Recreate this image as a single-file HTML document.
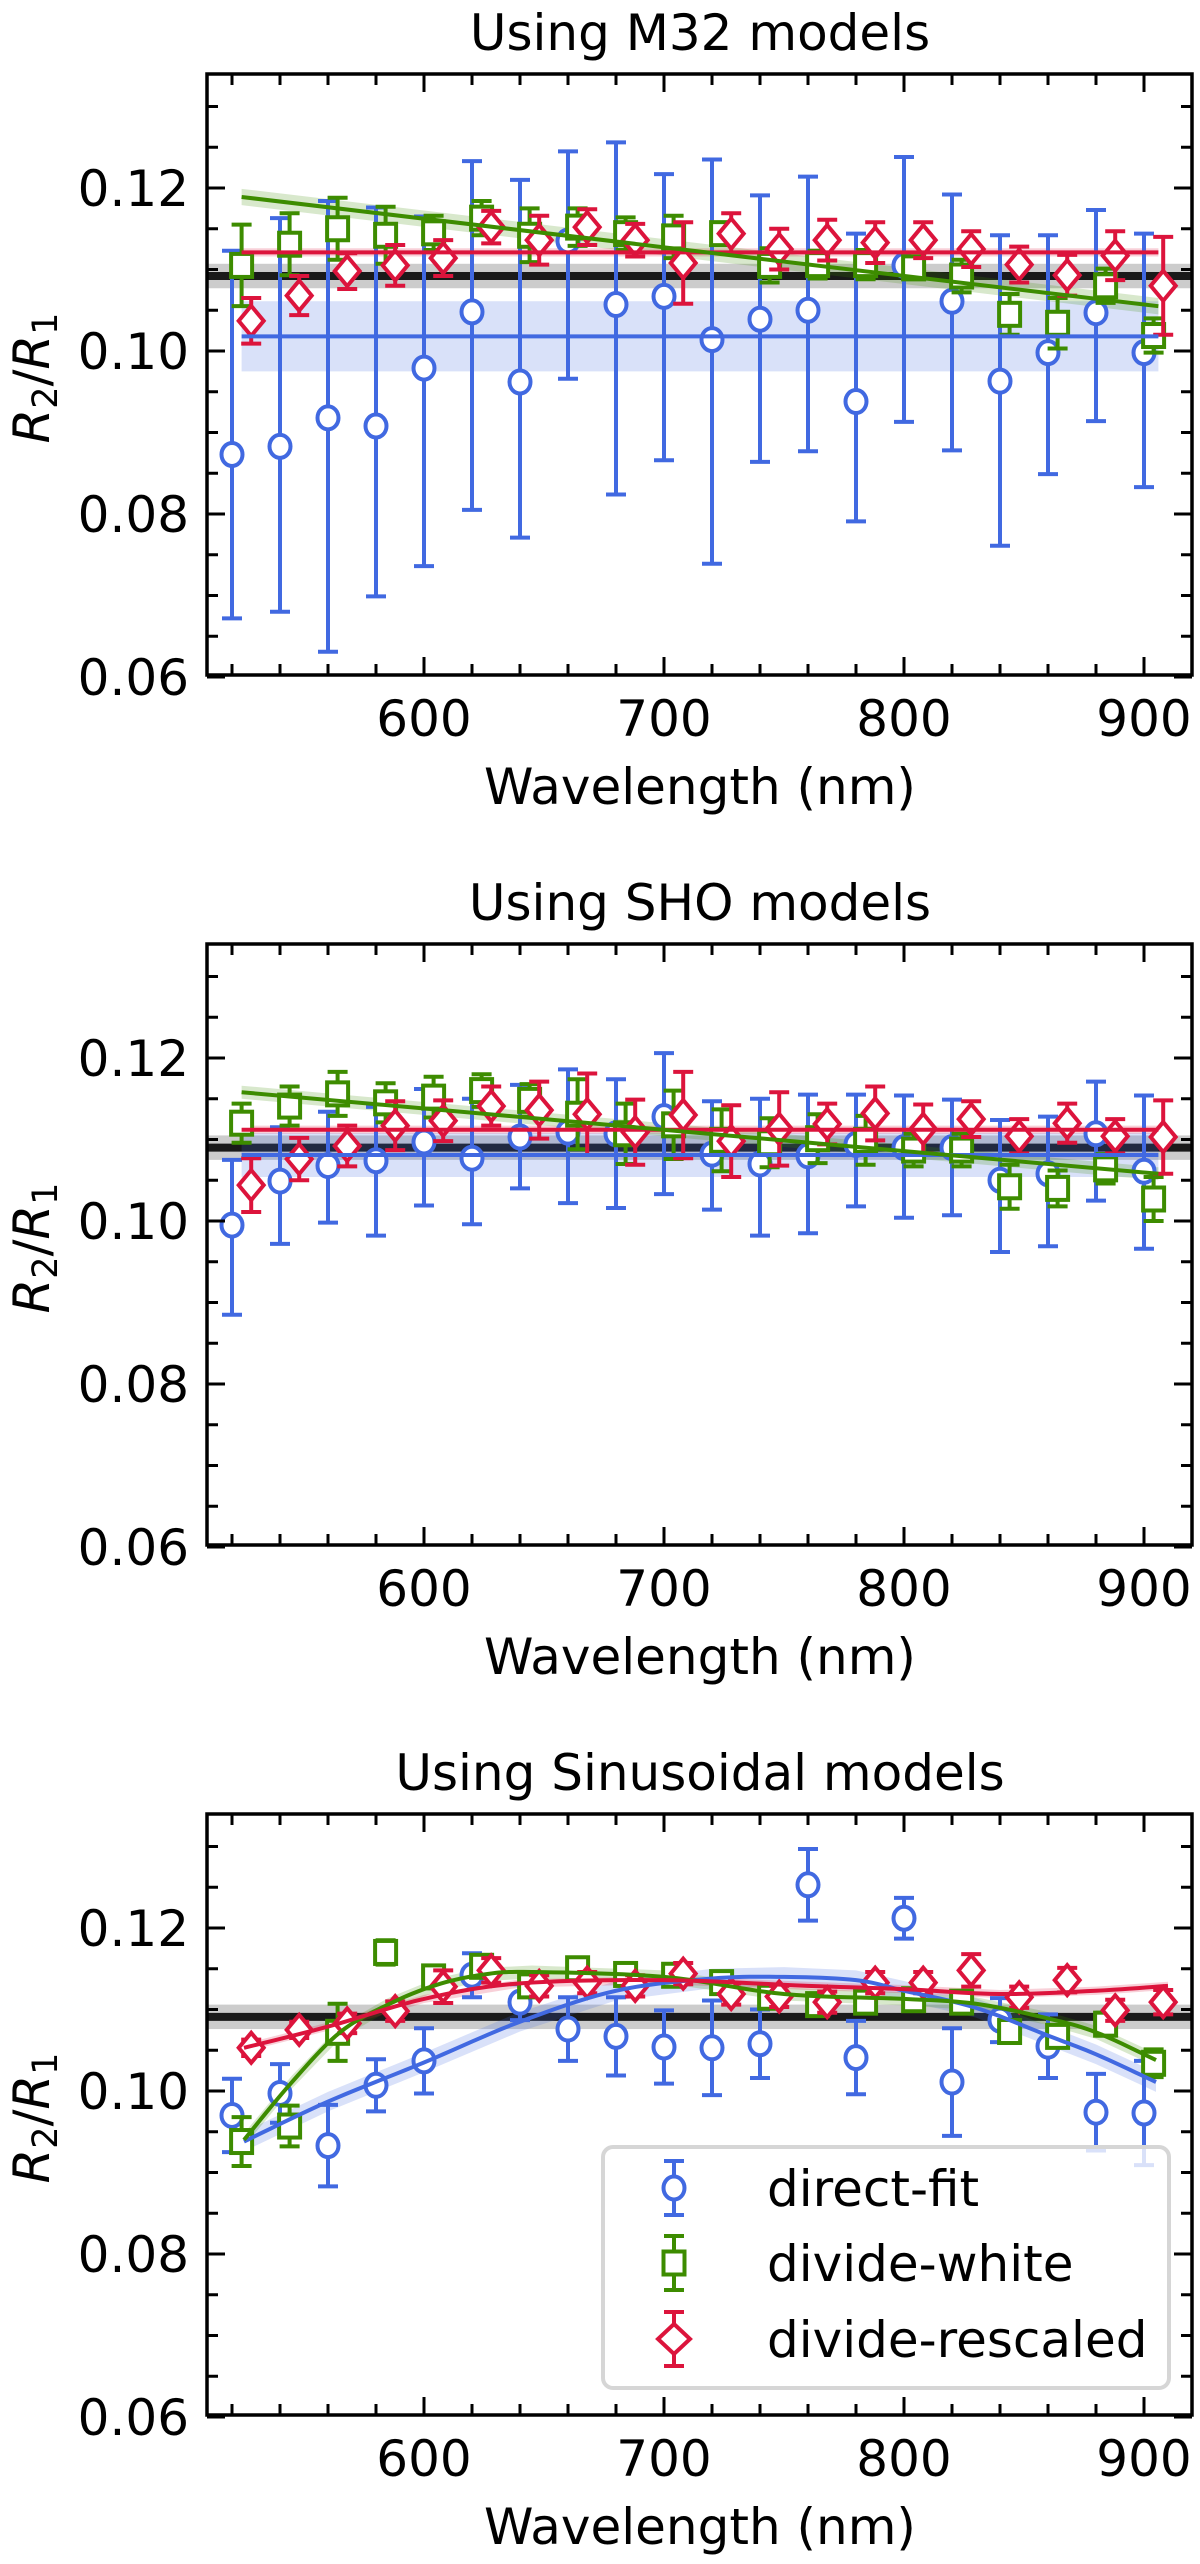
<!DOCTYPE html>
<html><head><meta charset="utf-8"><style>
html,body{margin:0;padding:0;background:#fff}
svg text{font-family:"DejaVu Sans","Liberation Sans",sans-serif;fill:#000}
</style></head><body>
<svg id="fig" width="1200" height="2559" viewBox="0 0 1200 2559" xmlns="http://www.w3.org/2000/svg"></svg>
<script>
// ---- data ----
const wavelengths=[520,540,560,580,600,620,640,660,680,700,720,740,760,780,800,820,840,860,880,900];
const panelTitles=["Using M32 models","Using SHO models","Using Sinusoidal models"];
const xTicks=[600,700,800,900];
const yTicks=[0.06,0.08,0.10,0.12];
const yTickLabels=["0.06","0.08","0.10","0.12"];
const xTickLabels=["600","700","800","900"];
const seriesNames=["direct-fit","divide-white","divide-rescaled"];
const referenceValue=[0.1092,0.1090,0.1091];
// panel 1
const p1Blue=[0.0873,0.0883,0.0918,0.0908,0.0979,0.1048,0.0962,0.1135,0.1057,0.1067,0.1014,0.1039,0.1050,0.0938,0.1105,0.1061,0.0963,0.0998,0.1047,0.0998];
const p1BlueHi=[0.0250,0.0280,0.0266,0.0268,0.0186,0.0185,0.0248,0.0110,0.0199,0.0150,0.0221,0.0152,0.0164,0.0206,0.0133,0.0131,0.0179,0.0144,0.0126,0.0146];
const p1BlueLo=[0.0201,0.0203,0.0287,0.0209,0.0243,0.0243,0.0191,0.0169,0.0233,0.0201,0.0275,0.0175,0.0173,0.0147,0.0192,0.0183,0.0202,0.0149,0.0133,0.0165];
const p1Green=[0.1105,0.1131,0.1150,0.1142,0.1145,0.1163,0.1142,0.1152,0.1144,0.1140,0.1144,0.1105,0.1106,0.1106,0.1102,0.1092,0.1045,0.1034,0.1080,0.1019];
const p1GreenErr=[0.005,0.0038,0.0038,0.0035,0.0021,0.0021,0.0033,0.0023,0.0020,0.0026,0.0013,0.0021,0.0017,0.0018,0.0013,0.0020,0.0025,0.0031,0.0021,0.0021];
const p1Red=[0.1037,0.1068,0.1098,0.1105,0.1114,0.1152,0.1136,0.1152,0.1136,0.1108,0.1144,0.1125,0.1136,0.1133,0.1136,0.1125,0.1106,0.1093,0.1117,0.1080];
const p1RedErr=[0.0028,0.0024,0.0022,0.0025,0.0022,0.0020,0.0030,0.0022,0.0020,0.0050,0.0025,0.0025,0.0025,0.0025,0.0022,0.0022,0.0022,0.0025,0.0030,0.0060];
const p1FitBlue=[0.1018,0.1018], p1FitGreen=[0.1189,0.1055], p1FitRed=[0.1121,0.1121];
// panel 2
const p2Blue=[0.0995,0.1049,0.1068,0.1074,0.1097,0.1077,0.1103,0.1109,0.1107,0.1128,0.1082,0.1070,0.1080,0.1094,0.1090,0.1090,0.1050,0.1058,0.1107,0.1061];
const p2BlueHi=[0.0080,0.0066,0.0066,0.0066,0.0065,0.0073,0.0064,0.0077,0.0067,0.0078,0.0065,0.0080,0.0075,0.0061,0.0064,0.0059,0.0074,0.0070,0.0064,0.0093];
const p2BlueLo=[0.0110,0.0077,0.0070,0.0092,0.0078,0.0081,0.0063,0.0087,0.0091,0.0095,0.0068,0.0088,0.0095,0.0076,0.0086,0.0083,0.0088,0.0089,0.0082,0.0095];
const p2Green=[0.1120,0.1141,0.1156,0.1145,0.1152,0.1160,0.1148,0.1131,0.1107,0.1118,0.1099,0.1096,0.1101,0.1099,0.1087,0.1087,0.1042,0.1040,0.1064,0.1027];
const p2GreenErr=[0.0024,0.0024,0.0027,0.0024,0.0025,0.0020,0.0020,0.0043,0.0037,0.0042,0.0038,0.0030,0.0030,0.0030,0.0020,0.0020,0.0027,0.0022,0.0018,0.0027];
const p2Red=[0.1044,0.1076,0.1092,0.1117,0.1123,0.1141,0.1136,0.1131,0.1109,0.1130,0.1098,0.1113,0.1119,0.1132,0.1113,0.1125,0.1104,0.1120,0.1104,0.1103];
const p2RedErr=[0.0033,0.0026,0.0025,0.0030,0.0025,0.0024,0.0035,0.0050,0.0040,0.0053,0.0044,0.0045,0.0025,0.0033,0.0030,0.0022,0.0021,0.0024,0.0021,0.0045];
const p2FitBlue=[0.1081,0.1081], p2FitGreen=[0.1158,0.1058], p2FitRed=[0.1112,0.1112];
// panel 3
const p3Blue=[0.0970,0.0997,0.0933,0.1007,0.1037,0.1142,0.1109,0.1076,0.1067,0.1054,0.1053,0.1058,0.1253,0.1041,0.1212,0.1011,0.1087,0.1055,0.0974,0.0973];
const p3BlueErr=[0.0045,0.0036,0.0050,0.0032,0.0040,0.0027,0.0022,0.0039,0.0048,0.0045,0.0058,0.0042,0.0044,0.0045,0.0025,0.0066,0.0027,0.0039,0.0047,0.0064];
const p3Green=[0.0938,0.0957,0.1072,0.1170,0.1140,0.1153,0.1129,0.1150,0.1143,0.1142,0.1133,0.1115,0.1106,0.1109,0.1112,0.1109,0.1073,0.1067,0.1082,0.1034];
const p3GreenErr=[0.0030,0.0025,0.0035,0.0015,0.0012,0.0013,0.0013,0.0012,0.0012,0.0012,0.0012,0.0012,0.0012,0.0012,0.0012,0.0012,0.0012,0.0012,0.0014,0.0017];
const p3Red=[0.1053,0.1075,0.1083,0.1098,0.1128,0.1148,0.1129,0.1133,0.1129,0.1144,0.1119,0.1116,0.1109,0.1133,0.1133,0.1148,0.1115,0.1136,0.1099,0.1109];
const p3RedErr=[0.0010,0.0010,0.0012,0.0012,0.0020,0.0015,0.0013,0.0013,0.0013,0.0013,0.0013,0.0013,0.0013,0.0013,0.0013,0.0020,0.0013,0.0015,0.0013,0.0015];
const p3CurveBlueX=[525,560,600,640,680,720,750,780,800,830,860,880,905];
const p3CurveBlue=[0.0938,0.0987,0.1035,0.1085,0.1123,0.1138,0.1140,0.1136,0.1123,0.1102,0.1068,0.1045,0.1011];
const p3CurveGreenX=[525,545,565,585,605,625,645,700,750,800,830,860,880,905];
const p3CurveGreen=[0.0940,0.1011,0.1072,0.1106,0.1130,0.1143,0.1146,0.1140,0.1119,0.1113,0.1107,0.1089,0.1072,0.1038];
const p3CurveRedX=[525,560,600,640,700,760,800,840,880,910];
const p3CurveRed=[0.1053,0.1079,0.1113,0.1132,0.1136,0.1129,0.1125,0.1119,0.1123,0.1129];

// ---- drawing ----
const NS="http://www.w3.org/2000/svg";
const svg=document.getElementById('fig');
const BLUE="#4169E1",GREEN="#3d8c00",RED="#DC143C";
const AX_L=207,AX_R=1192,AX_T=74,AX_B=675;
const FS=50, LW=4;
const X=l=>424+(l-600)*2.4;
function mk(tag,attrs,parent){const e=document.createElementNS(NS,tag);for(const k in attrs)e.setAttribute(k,attrs[k]);(parent||svg).appendChild(e);return e;}

function drawPanel(pi,off,d){
  const Y=v=>off+188+(0.12-v)*8150;
  const g=mk('g',{});
  
  
  const clipId='clip'+pi;
  const cp=mk('clipPath',{id:clipId},g);
  mk('rect',{x:AX_L,y:off+AX_T,width:AX_R-AX_L,height:AX_B-AX_T},cp);
  const plot=mk('g',{'clip-path':'url(#'+clipId+')'},g);
  
  
  const ref=referenceValue[pi];
  const rb=mk('rect',{x:AX_L,y:Y(ref+0.0015),width:AX_R-AX_L,height:Y(ref-0.0015)-Y(ref+0.0015),fill:'#000','fill-opacity':0.2},plot);
  
  
  const rl=mk('line',{x1:AX_L,x2:AX_R,y1:Y(ref),y2:Y(ref),stroke:'#1a1a1a','stroke-width':8},plot);
  
  
  d.fits.forEach(f=>{
    let top=[],bot=[];
    f.xs.forEach((x,i)=>{top.push(X(x)+','+Y(f.ys[i]+f.band));bot.unshift(X(x)+','+Y(f.ys[i]-f.band));});
    const p=mk('polygon',{points:top.concat(bot).join(' '),fill:f.color,'fill-opacity':0.2},plot);
    
    
  });
  d.series.forEach((s,si)=>{
    const sg=mk('g',{},plot);
    
    
    s.vals.forEach((v,i)=>{
      const cx=X(wavelengths[i]+s.offset);
      const yt=Y(v+s.hi[i]),yb=Y(v-s.lo[i]),cy=Y(v);
      const eb=mk('path',{d:`M${cx},${yt}V${yb}M${cx-10},${yt}H${cx+10}M${cx-10},${yb}H${cx+10}`,stroke:s.color,'stroke-width':LW,fill:'none'},sg);
      
      
      let m;
      if(s.shape==='o') m=mk('ellipse',{cx:cx,cy:cy,rx:10.5,ry:11.5,fill:'#fff',stroke:s.color,'stroke-width':LW},sg);
      else if(s.shape==='s') m=mk('rect',{x:cx-10.5,y:cy-11.5,width:21,height:23,fill:'#fff',stroke:s.color,'stroke-width':LW},sg);
      else m=mk('polygon',{points:`${cx},${cy-15} ${cx+12.5},${cy} ${cx},${cy+15} ${cx-12.5},${cy}`,fill:'#fff',stroke:s.color,'stroke-width':LW},sg);
      
      
    });
  });
  d.fits.forEach(f=>{
    let pts=[];
    const xs=f.xs,ys=f.ys;
    if(xs.length===2){pts=[[X(xs[0]),Y(ys[0])],[X(xs[1]),Y(ys[1])]];}
    else{
      for(let i=0;i<xs.length-1;i++){
        const x0=xs[Math.max(i-1,0)],x1=xs[i],x2=xs[i+1],x3=xs[Math.min(i+2,xs.length-1)];
        const y0=ys[Math.max(i-1,0)],y1=ys[i],y2=ys[i+1],y3=ys[Math.min(i+2,ys.length-1)];
        for(let t=0;t<1;t+=0.1){
          const t2=t*t,t3=t2*t;
          const cr=(a,b,c,e)=>0.5*((2*b)+(-a+c)*t+(2*a-5*b+4*c-e)*t2+(-a+3*b-3*c+e)*t3);
          pts.push([X(cr(x0,x1,x2,x3)),Y(cr(y0,y1,y2,y3))]);
        }
      }
      pts.push([X(xs[xs.length-1]),Y(ys[ys.length-1])]);
    }
    const l=mk('polyline',{points:pts.map(p=>p.join(',')).join(' '),fill:'none',stroke:f.color,'stroke-width':LW},plot);
    
    
  });
  const fr=mk('rect',{x:AX_L,y:off+AX_T,width:AX_R-AX_L,height:AX_B-AX_T,fill:'none',stroke:'#000','stroke-width':3.5},g);
  
  
  let td='';
  for(let l=520;l<=910;l+=20){const x=X(l);const L=(l%100===0)?18:11;td+=`M${x},${off+AX_B}v${-L}M${x},${off+AX_T}v${L}`;}
  for(let k=0;k<=14;k++){const v=0.06+k*0.005;const y=Y(v);if(y<off+AX_T+1)continue;const L=(k%4===0)?18:11;td+=`M${AX_L},${y}h${L}M${AX_R},${y}h${-L}`;}
  const tk=mk('path',{d:td,stroke:'#000','stroke-width':3,fill:'none'},g);
  
  
  xTicks.forEach((t,i)=>{const e=mk('text',{x:X(t),y:off+736,'text-anchor':'middle','font-size':FS},g);e.textContent=xTickLabels[i];
    
    });
  yTicks.forEach((t,i)=>{const e=mk('text',{x:189,y:Y(t)+18,'text-anchor':'end','font-size':FS},g);e.textContent=yTickLabels[i];
    
    });
  const tt=mk('text',{x:700,y:off+50,'text-anchor':'middle','font-size':FS},g);tt.textContent=panelTitles[pi];
  
  
  const xl=mk('text',{x:700,y:off+804,'text-anchor':'middle','font-size':FS},g);xl.textContent="Wavelength (nm)";
  
  
  const yl=mk('text',{x:0,y:0,'text-anchor':'middle','font-size':FS,transform:`translate(49,${off+378}) rotate(-90)`},g);
  
  
  yl.innerHTML='<tspan font-style="italic">R</tspan><tspan font-size="35" dy="8">2</tspan><tspan dy="-8">/</tspan><tspan font-style="italic">R</tspan><tspan font-size="35" dy="8">1</tspan>';
}

const lin=[524,906];
drawPanel(0,0,{series:[
  {vals:p1Blue,hi:p1BlueHi,lo:p1BlueLo,color:BLUE,shape:'o',offset:0},
  {vals:p1Green,hi:p1GreenErr,lo:p1GreenErr,color:GREEN,shape:'s',offset:4},
  {vals:p1Red,hi:p1RedErr,lo:p1RedErr,color:RED,shape:'d',offset:8}],
 fits:[{name:'direct-fit',xs:lin,ys:p1FitBlue,band:0.0043,color:BLUE},
       {name:'divide-rescaled',xs:lin,ys:p1FitRed,band:0.0005,color:RED},
       {name:'divide-white',xs:lin,ys:p1FitGreen,band:0.001,color:GREEN}]});
drawPanel(1,870,{series:[
  {vals:p2Blue,hi:p2BlueHi,lo:p2BlueLo,color:BLUE,shape:'o',offset:0},
  {vals:p2Green,hi:p2GreenErr,lo:p2GreenErr,color:GREEN,shape:'s',offset:4},
  {vals:p2Red,hi:p2RedErr,lo:p2RedErr,color:RED,shape:'d',offset:8}],
 fits:[{name:'direct-fit',xs:lin,ys:p2FitBlue,band:0.0027,color:BLUE},
       {name:'divide-rescaled',xs:lin,ys:p2FitRed,band:0.0005,color:RED},
       {name:'divide-white',xs:lin,ys:p2FitGreen,band:0.0008,color:GREEN}]});
drawPanel(2,1740,{series:[
  {vals:p3Blue,hi:p3BlueErr,lo:p3BlueErr,color:BLUE,shape:'o',offset:0},
  {vals:p3Green,hi:p3GreenErr,lo:p3GreenErr,color:GREEN,shape:'s',offset:4},
  {vals:p3Red,hi:p3RedErr,lo:p3RedErr,color:RED,shape:'d',offset:8}],
 fits:[{name:'direct-fit',xs:p3CurveBlueX,ys:p3CurveBlue,band:0.0012,color:BLUE},
       {name:'divide-white',xs:p3CurveGreenX,ys:p3CurveGreen,band:0.0008,color:GREEN},
       {name:'divide-rescaled',xs:p3CurveRedX,ys:p3CurveRed,band:0.0005,color:RED}]});

const lg=mk('g',{});


mk('rect',{x:603,y:2147,width:566,height:241,rx:10,fill:'#fff','fill-opacity':0.8,stroke:'#d6d6d6','stroke-width':4},lg);
const legColors=[BLUE,GREEN,RED],legShapes=['o','s','d'],legY=[2188,2263,2339];
seriesNames.forEach((n,i)=>{
  const eg=mk('g',{},lg);
  
  
  const cx=674,cy=legY[i],c=legColors[i];
  mk('path',{d:`M${cx},${cy-27}V${cy+27}M${cx-10},${cy-27}H${cx+10}M${cx-10},${cy+27}H${cx+10}`,stroke:c,'stroke-width':LW,fill:'none'},eg);
  if(legShapes[i]==='o') mk('ellipse',{cx:cx,cy:cy,rx:10.5,ry:11.5,fill:'#fff',stroke:c,'stroke-width':LW},eg);
  else if(legShapes[i]==='s') mk('rect',{x:cx-10.5,y:cy-11.5,width:21,height:23,fill:'#fff',stroke:c,'stroke-width':LW},eg);
  else mk('polygon',{points:`${cx},${cy-15} ${cx+16},${cy} ${cx},${cy+15} ${cx-16},${cy}`,fill:'#fff',stroke:c,'stroke-width':LW},eg);
  const t=mk('text',{x:767,y:cy+18,'font-size':FS},eg);t.textContent=n;
});
</script>
</body></html>
